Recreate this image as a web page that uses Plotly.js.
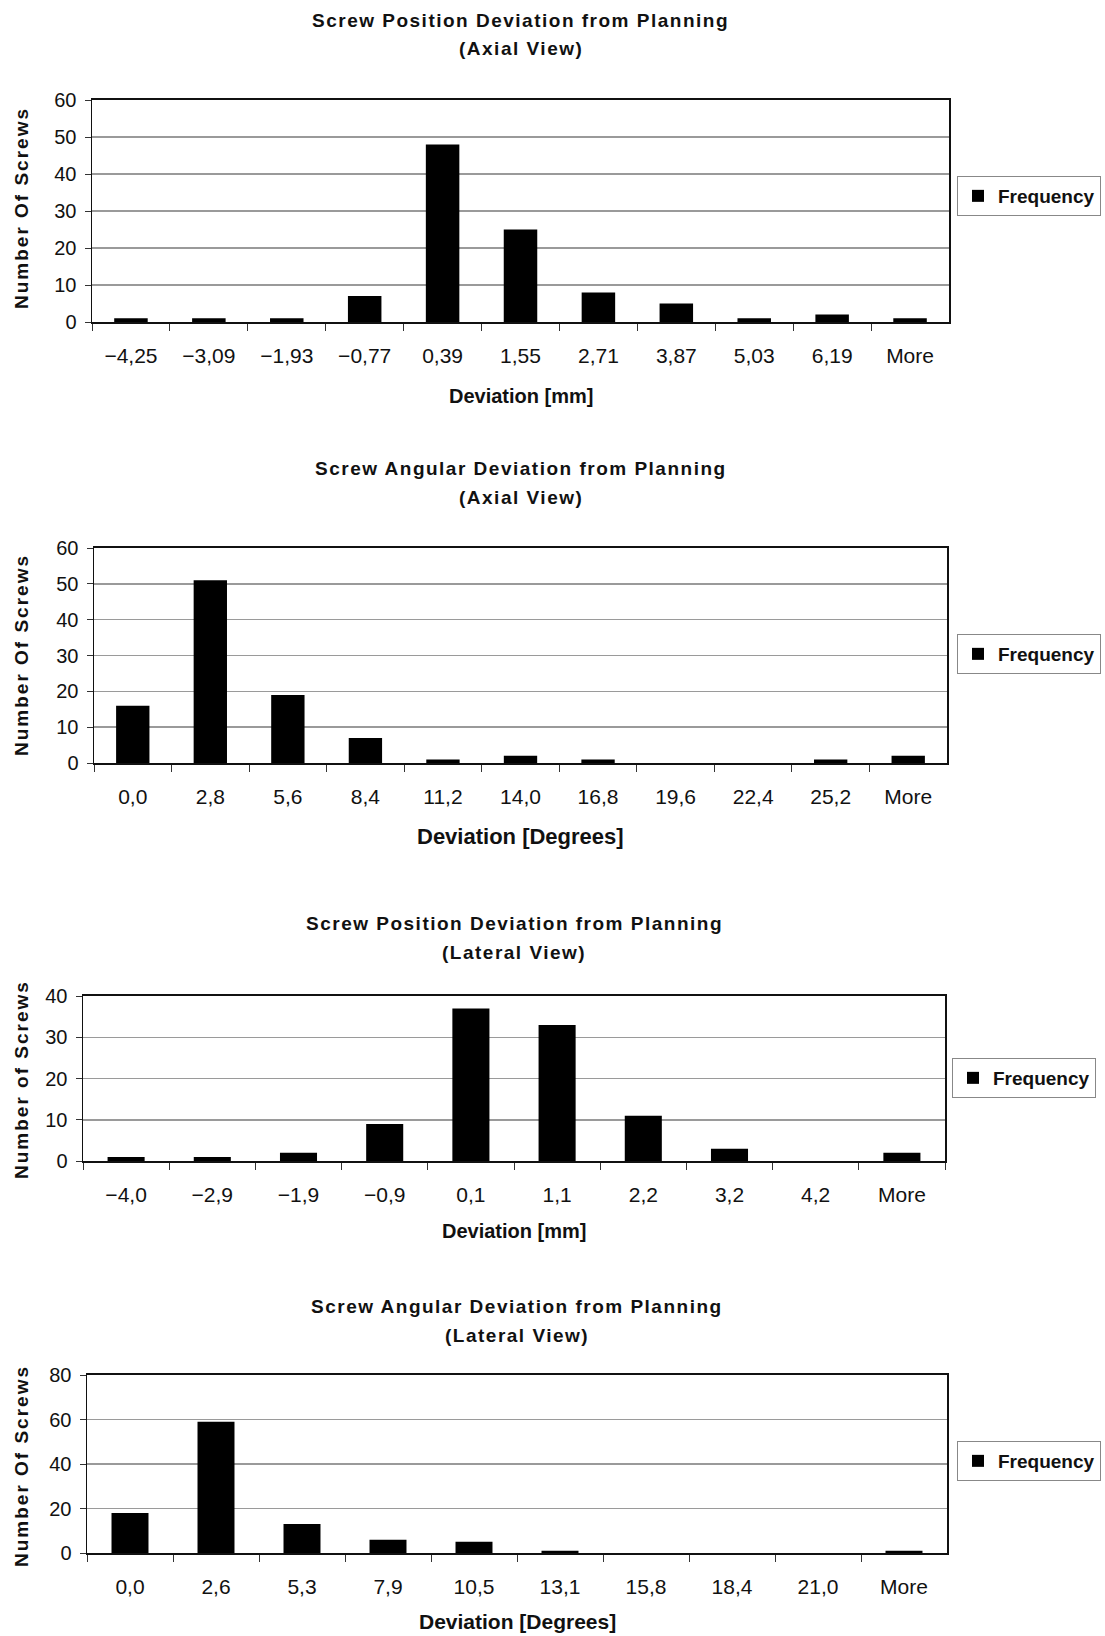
<!DOCTYPE html>
<html>
<head>
<meta charset="utf-8">
<script src="https://cdn.plot.ly/plotly-3.0.1.min.js"></script>
<style>html,body{margin:0;padding:0;background:#fff;}#chart{width:1105px;height:1636px;}</style>
</head>
<body>
<div id="chart"></div>
<script>
// ---- Data ----
const cats1 = ["\u22124,25", "\u22123,09", "\u22121,93", "\u22120,77", "0,39", "1,55", "2,71", "3,87", "5,03", "6,19", "More"];
const vals1 = [1, 1, 1, 7, 48, 25, 8, 5, 1, 2, 1];

const cats2 = ["0,0", "2,8", "5,6", "8,4", "11,2", "14,0", "16,8", "19,6", "22,4", "25,2", "More"];
const vals2 = [16, 51, 19, 7, 1, 2, 1, 0, 0, 1, 2];

const cats3 = ["\u22124,0", "\u22122,9", "\u22121,9", "\u22120,9", "0,1", "1,1", "2,2", "3,2", "4,2", "More"];
const vals3 = [1, 1, 2, 9, 37, 33, 11, 3, 0, 2];

const cats4 = ["0,0", "2,6", "5,3", "7,9", "10,5", "13,1", "15,8", "18,4", "21,0", "More"];
const vals4 = [18, 59, 13, 6, 5, 1, 0, 0, 0, 1];

const titles = [
  ["Screw Position Deviation from Planning", "(Axial View)"],
  ["Screw Angular Deviation from Planning", "(Axial View)"],
  ["Screw Position Deviation from Planning", "(Lateral View)"],
  ["Screw Angular Deviation from Planning", "(Lateral View)"]
];
const xTitles = ["Deviation [mm]", "Deviation [Degrees]", "Deviation [mm]", "Deviation [Degrees]"];
const yTitles = ["Number Of Screws", "Number Of Screws", "Number of Screws", "Number Of Screws"];
const yMax = [60, 60, 40, 80];
const yStep = [10, 10, 10, 20];
const seriesName = "Frequency";

// ---- Layout geometry (pixels) ----
const W = 1105, H = 1636;
const geo = [
  {l: 92, r: 949, t: 100, b: 322, t1: 21, t2: 49, xt: 396, xs: 20, yt: 208, lx: 1101, ly: 196},
  {l: 94, r: 947, t: 548, b: 763, t1: 468, t2: 497, xt: 836, xs: 22, yt: 655, lx: 1101, ly: 654},
  {l: 83, r: 945, t: 996, b: 1161, t1: 923, t2: 952, xt: 1231, xs: 20, yt: 1080, lx: 1096, ly: 1078},
  {l: 87, r: 947, t: 1375, b: 1553, t1: 1306, t2: 1335, xt: 1621, xs: 21, yt: 1466, lx: 1101, ly: 1461}
];
const fx = p => p / W;
const fy = p => 1 - p / H;

const cats = [cats1, cats2, cats3, cats4];
const vals = [vals1, vals2, vals3, vals4];

const FONT = "Liberation Sans, Arial, sans-serif";
const sp = (t, s) => '<span style="letter-spacing:' + s + 'px"><b>' + t + '</b></span>';
const traces = [];
const layout = {
  width: W, height: H,
  margin: {l: 0, r: 0, t: 0, b: 0, autoexpand: false},
  paper_bgcolor: "#fff", plot_bgcolor: "#fff",
  font: {family: FONT, color: "#111"},
  bargap: 0.57,
  annotations: [],
  showlegend: true
};

for (let i = 0; i < 4; i++) {
  const g = geo[i];
  const sfx = i === 0 ? "" : String(i + 1);
  const legendKey = i === 0 ? "legend" : "legend" + (i + 1);
  traces.push({
    type: "bar",
    x: cats[i], y: vals[i],
    name: seriesName,
    xaxis: "x" + sfx, yaxis: "y" + sfx,
    legend: legendKey,
    marker: {color: "#000", line: {width: 0}},
    hoverinfo: "x+y"
  });
  layout["xaxis" + sfx] = {
    domain: [fx(g.l), fx(g.r)],
    anchor: "y" + sfx,
    type: "category",
    showline: true, linecolor: "#111", linewidth: 2, mirror: true,
    ticks: "outside", tickson: "boundaries", ticklen: 7, tickcolor: "#333", tickwidth: 1,
    ticklabelstandoff: 14,
    showgrid: false, zeroline: false,
    tickfont: {family: FONT, size: 21, color: "#111"},
    fixedrange: true
  };
  layout["yaxis" + sfx] = {
    domain: [fy(g.b), fy(g.t)],
    anchor: "x" + sfx,
    range: [0, yMax[i]], dtick: yStep[i], tick0: 0,
    showline: true, linecolor: "#111", linewidth: 1.5, mirror: true,
    ticks: "outside", ticklen: 6, tickcolor: "#333",
    ticklabelstandoff: 4,
    showgrid: true, gridcolor: "#9a9a9a", gridwidth: 1.5,
    zeroline: false,
    tickfont: {family: FONT, size: 20, color: "#111"},
    fixedrange: true
  };
  layout[legendKey] = {
    x: fx(g.lx), y: fy(g.ly), xanchor: "right", yanchor: "middle",
    xref: "paper", yref: "paper",
    bgcolor: "#fff", bordercolor: "#888", borderwidth: 1,
    font: {family: FONT, size: 19, color: "#111", weight: "bold"},
    itemwidth: 30
  };
  const cx = fx((g.l + g.r) / 2);
  layout.annotations.push(
    {text: sp(titles[i][0], 1.5), x: cx, y: fy(g.t1), xref: "paper", yref: "paper",
     showarrow: false, xanchor: "center", yanchor: "middle", font: {family: FONT, size: 19, color: "#111"}},
    {text: sp(titles[i][1], 1.5), x: cx, y: fy(g.t2), xref: "paper", yref: "paper",
     showarrow: false, xanchor: "center", yanchor: "middle", font: {family: FONT, size: 19, color: "#111"}},
    {text: "<b>" + xTitles[i] + "</b>", x: cx, y: fy(g.xt), xref: "paper", yref: "paper",
     showarrow: false, xanchor: "center", yanchor: "middle", font: {family: FONT, size: g.xs, color: "#111"}},
    {text: sp(yTitles[i], 2), x: fx(21), y: fy(g.yt), xref: "paper", yref: "paper",
     showarrow: false, xanchor: "center", yanchor: "middle", textangle: -90,
     font: {family: FONT, size: 19, color: "#111"}}
  );
}

Plotly.newPlot("chart", traces, layout, {staticPlot: true, displayModeBar: false});
</script>
</body>
</html>
